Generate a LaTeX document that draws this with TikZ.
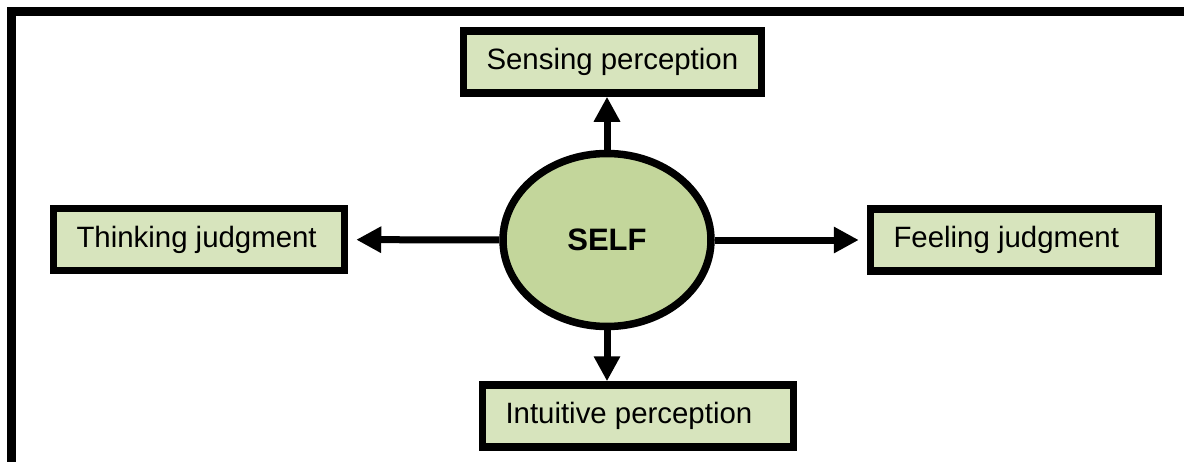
\documentclass[tikz,border=0pt]{standalone}
\usepackage{fontspec}
\setmainfont{Liberation Sans}
\usetikzlibrary{arrows.meta,shapes.geometric}
\definecolor{boxgreen}{HTML}{D7E4BD}
\definecolor{selfgreen}{HTML}{C3D69B}
\newcommand{\fnlabel}[2]{\makebox[#1][l]{#2}}
\tikzset{
  fn/.style={draw, line width=3.75pt, fill=boxgreen, inner xsep=11.5pt,
    minimum height=31pt, font=\fontsize{14.7}{17}\selectfont},
  link/.style={line width=3.5pt, -{Triangle[length=12.5pt,width=12.5pt]}}
}
\begin{document}
\begin{tikzpicture}[x=0.5pt,y=-0.5pt]
          \useasboundingbox (0,0) rectangle (1184,461);
          \draw[line width=4.5pt] (11,475) -- (11,11) -- (1195,11);
          \node[draw, ellipse, line width=3.75pt, fill=selfgreen,
              minimum width=104pt, minimum height=86.5pt,
              font=\fontsize{15.5}{18}\bfseries] (self) at (607,240) {SELF};
          \node[fn] (sense) at (612.5,62) {\fnlabel{126pt}{Sensing perception}};
          \node[fn] (think) at (199,239.5) {\fnlabel{122.5pt}{Thinking judgment}};
          \node[fn] (feel) at (1014.5,240) {\fnlabel{121pt}{Feeling judgment}};
          \node[fn] (intu) at (638,416) {\fnlabel{132.5pt}{Intuitive perception}};
          \draw[link] (self) -- (self |- sense.south);
          \draw[link] (self) -- (self |- intu.north);
          \draw[link, shorten >=4pt] (self) -- (think);
          \draw[link, shorten >=4pt] (self) -- (feel);
        \end{tikzpicture}
\end{document}
